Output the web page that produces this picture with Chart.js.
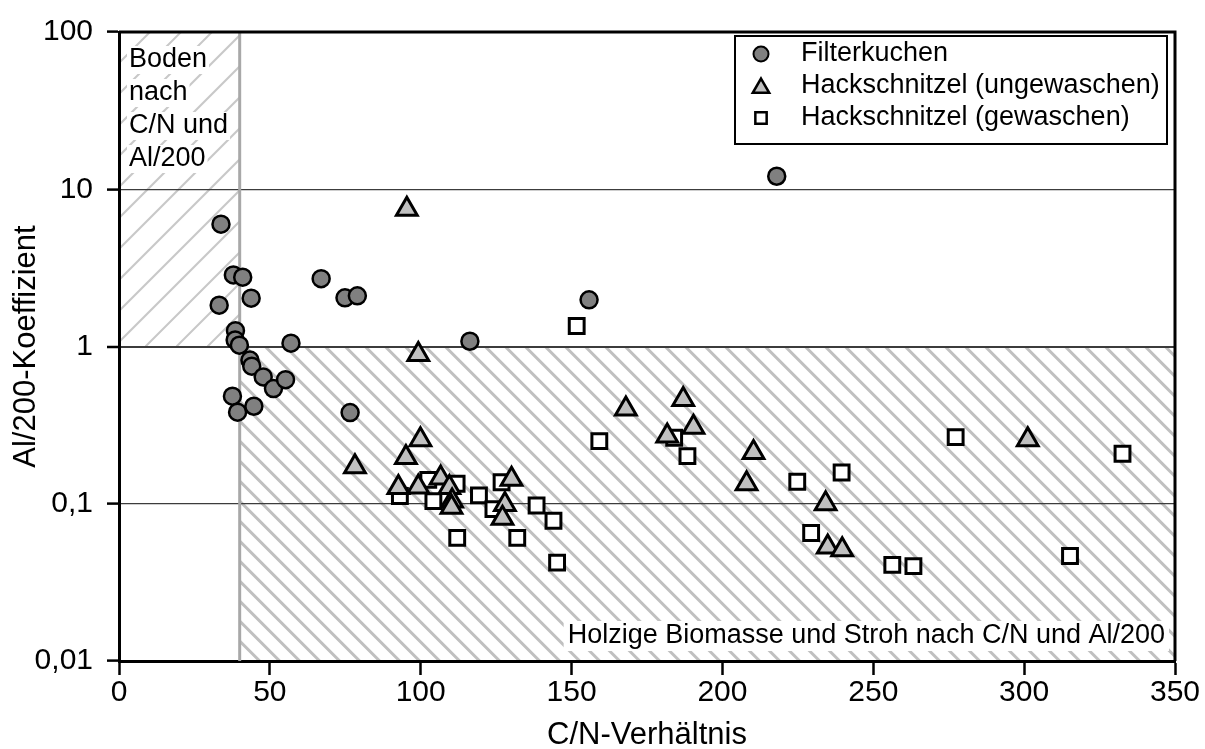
<!DOCTYPE html>
<html>
<head>
<meta charset="utf-8">
<script src="https://cdn.jsdelivr.net/npm/chart.js@4.4.0/dist/chart.umd.min.js"></script>
<style>
    body { margin: 0; background: #fff; }
</style>
</head>
<body>
<canvas id="cn_chart" width="1205" height="749"></canvas>
<script>
// values (x = C/N-Verhaeltnis, y = Al/200-Koeffizient)
var filterkuchen_x = [33.8, 33.2, 37.9, 41.0, 43.8, 38.6, 38.5, 39.9, 43.4, 44.0, 47.8, 51.2, 55.2, 37.6, 39.3, 44.7, 76.6, 57.0, 67.0, 74.9, 79.0, 116.3, 155.8, 218.0];
var filterkuchen_y = [6.0, 1.83, 2.85, 2.76, 2.03, 1.26, 1.10, 1.02, 0.82, 0.75, 0.64, 0.54, 0.615, 0.483, 0.382, 0.417, 0.38, 1.05, 2.70, 2.04, 2.10, 1.08, 1.98, 12.1];

var ungewaschen_x = [95.4, 99.2, 99.9, 95.1, 78.2, 92.6, 99.2, 106.6, 109.5, 110.4, 110.2, 130.1, 127.9, 127.1, 168.0, 187.0, 190.4, 181.7, 210.3, 208.0, 234.2, 234.9, 239.7, 301.2];
var ungewaschen_y = [7.46, 0.89, 0.255, 0.197, 0.172, 0.127, 0.128, 0.146, 0.127, 0.104, 0.095, 0.143, 0.099, 0.081, 0.40, 0.46, 0.307, 0.27, 0.212, 0.134, 0.10, 0.053, 0.051, 0.255];

var gewaschen_x = [151.7, 159.2, 93.1, 102.5, 104.2, 111.9, 119.3, 124.1, 126.8, 138.4, 144.0, 112.1, 132.0, 145.2, 184.0, 188.4, 224.8, 239.5, 229.4, 256.3, 263.3, 277.3, 332.6, 315.2];
var gewaschen_y = [1.35, 0.25, 0.112, 0.142, 0.104, 0.134, 0.113, 0.0925, 0.137, 0.0975, 0.078, 0.0607, 0.0607, 0.0422, 0.263, 0.201, 0.138, 0.158, 0.0652, 0.0409, 0.0401, 0.265, 0.208, 0.0465];

var series_names = ['Filterkuchen', 'Hackschnitzel (ungewaschen)', 'Hackschnitzel (gewaschen)'];

var x_min = 0, x_max = 350, x_step = 50;
var y_tick_values = [0.01, 0.1, 1, 10, 100];
var y_tick_labels = ['0,01', '0,1', '1', '10', '100'];
var y_grid_values = [0.1, 1, 10];

var boden_lines = ['Boden', 'nach', 'C/N und', 'Al/200'];
var holz_text = 'Holzige Biomasse und Stroh nach C/N und Al/200';

var font_family = "'Liberation Sans', Arial, sans-serif";

function to_points(xs, ys) {
    var pts = [];
    for (let i = 0; i < xs.length; i++) {
        pts.push({ x: xs[i], y: ys[i] });
    }
    return pts;
}

function hatch(ctx, x0, y0, x1, y1, gap, dir, color, width) {
    ctx.save();
    ctx.beginPath();
    ctx.rect(x0, y0, x1 - x0, y1 - y0);
    ctx.clip();
    ctx.strokeStyle = color;
    ctx.lineWidth = width;
    var h = y1 - y0;
    ctx.beginPath();
    for (let x = x0 - h; x < x1 + h; x += gap) {
        if (dir > 0) {
            ctx.moveTo(x, y1);
            ctx.lineTo(x + h, y0);
        } else {
            ctx.moveTo(x, y0);
            ctx.lineTo(x + h, y1);
        }
    }
    ctx.stroke();
    ctx.restore();
}

var regions_plugin = {
    id: 'regions',
    beforeDraw: function (chart) {
        var ctx = chart.ctx;
        var xs = chart.scales.x, ys = chart.scales.y;
        ctx.save();
        ctx.fillStyle = '#ffffff';
        ctx.fillRect(0, 0, chart.width, chart.height);
        ctx.restore();
        hatch(ctx, xs.getPixelForValue(0), ys.getPixelForValue(100), xs.getPixelForValue(40), ys.getPixelForValue(1), 31, 1, '#c8c8c8', 2);
        hatch(ctx, xs.getPixelForValue(40), ys.getPixelForValue(1), xs.getPixelForValue(350), ys.getPixelForValue(0.01), 20, -1, '#c0c0c0', 3);
    },
    beforeDatasetsDraw: function (chart) {
        var ctx = chart.ctx;
        var xs = chart.scales.x, ys = chart.scales.y;
        var x40 = xs.getPixelForValue(40);
        ctx.save();
        // region border at C/N = 40
        ctx.strokeStyle = '#a8a8a8';
        ctx.lineWidth = 3;
        ctx.beginPath();
        ctx.moveTo(x40, ys.getPixelForValue(100));
        ctx.lineTo(x40, ys.getPixelForValue(0.01));
        ctx.stroke();

        // region texts with white background
        ctx.font = '27px ' + font_family;
        ctx.textBaseline = 'middle';
        ctx.textAlign = 'left';
        var tx = xs.getPixelForValue(0) + 10;
        var ty = ys.getPixelForValue(100) + 28;
        for (let i = 0; i < boden_lines.length; i++) {
            let w = ctx.measureText(boden_lines[i]).width;
            ctx.fillStyle = '#ffffff';
            ctx.fillRect(tx - 2, ty + i * 33 - 14, w + 4, 28);
            ctx.fillStyle = '#000000';
            ctx.fillText(boden_lines[i], tx, ty + i * 33);
        }

        var hx = xs.getPixelForValue(350) - 10;
        var hy = ys.getPixelForValue(0.01) - 25;
        ctx.textAlign = 'right';
        var hw = ctx.measureText(holz_text).width;
        ctx.fillStyle = '#ffffff';
        ctx.fillRect(hx - hw - 4, hy - 15, hw + 8, 30);
        ctx.fillStyle = '#000000';
        ctx.fillText(holz_text, hx, hy);
        ctx.restore();
    },
    afterDraw: function (chart) {
        var ctx = chart.ctx;
        var a = chart.chartArea;
        ctx.save();
        // frame on top and right
        ctx.strokeStyle = '#000000';
        ctx.lineWidth = 3;
        ctx.beginPath();
        ctx.moveTo(a.left, a.top);
        ctx.lineTo(a.right, a.top);
        ctx.lineTo(a.right, a.bottom);
        ctx.stroke();

        // legend box
        var lx = 735, ly = 36, lw = 432, lh = 108;
        ctx.fillStyle = '#ffffff';
        ctx.fillRect(lx, ly, lw, lh);
        ctx.lineWidth = 2;
        ctx.strokeRect(lx, ly, lw, lh);

        var marker_opts = [
            { pointStyle: 'circle', radius: 7.5, borderWidth: 2 },
            { pointStyle: 'triangle', radius: 9.5, borderWidth: 2.5 },
            { pointStyle: 'rect', radius: 8, borderWidth: 2.5 }
        ];
        ctx.font = '27px ' + font_family;
        ctx.textBaseline = 'middle';
        ctx.textAlign = 'left';
        for (let i = 0; i < series_names.length; i++) {
            let ds = chart.data.datasets[i];
            let y = ly + 18 + i * 32;
            ctx.fillStyle = ds.backgroundColor;
            ctx.strokeStyle = ds.borderColor;
            ctx.lineWidth = marker_opts[i].borderWidth;
            Chart.helpers.drawPoint(ctx, marker_opts[i], lx + 26, y + (i == 1 ? 2 : 0));
            ctx.fillStyle = '#000000';
            ctx.fillText(series_names[i], lx + 66, y);
        }
        ctx.restore();
    }
};

var cn_chart = new Chart(document.getElementById('cn_chart').getContext('2d'), {
    type: 'scatter',
    data: {
        datasets: [{
            label: series_names[0],
            data: to_points(filterkuchen_x, filterkuchen_y),
            pointStyle: 'circle',
            pointRadius: 8.5,
            backgroundColor: '#808080',
            borderColor: '#000000',
            borderWidth: 2.5
        }, {
            label: series_names[1],
            data: to_points(ungewaschen_x, ungewaschen_y),
            pointStyle: 'triangle',
            pointRadius: 12,
            backgroundColor: '#c0c0c0',
            borderColor: '#000000',
            borderWidth: 3
        }, {
            label: series_names[2],
            data: to_points(gewaschen_x, gewaschen_y),
            pointStyle: 'rect',
            pointRadius: 10.5,
            backgroundColor: '#ffffff',
            borderColor: '#000000',
            borderWidth: 3
        }]
    },
    options: {
        responsive: false,
        animation: false,
        layout: {
            padding: { top: 29, right: 30, left: 0, bottom: 0 }
        },
        plugins: {
            legend: { display: false },
            tooltip: { enabled: false }
        },
        scales: {
            x: {
                type: 'linear',
                min: x_min,
                max: x_max,
                ticks: {
                    stepSize: x_step,
                    color: '#000000',
                    padding: 0,
                    maxRotation: 0,
                    font: { size: 30, family: font_family }
                },
                grid: {
                    drawOnChartArea: false,
                    tickLength: 14,
                    tickColor: '#000000',
                    tickWidth: 2.5
                },
                border: { display: true, color: '#000000', width: 3 },
                title: {
                    display: true,
                    text: 'C/N-Verhältnis',
                    color: '#000000',
                    font: { size: 31, family: font_family, lineHeight: 1 },
                    padding: { top: 0, bottom: -2 }
                },
                afterFit: function (scale) {
                    scale.height = 88;
                }
            },
            y: {
                type: 'logarithmic',
                min: 0.01,
                max: 100,
                afterBuildTicks: function (scale) {
                    scale.ticks = y_tick_values.map(function (v) { return { value: v }; });
                },
                ticks: {
                    color: '#000000',
                    padding: 14,
                    font: { size: 30, family: font_family },
                    callback: function (value) {
                        return y_tick_labels[y_tick_values.indexOf(value)];
                    }
                },
                grid: {
                    color: function (c) {
                        if (c.tick && y_grid_values.indexOf(c.tick.value) >= 0) {
                            return '#3c3c3c';
                        }
                        return 'rgba(0,0,0,0)';
                    },
                    lineWidth: function (c) {
                        return (c.tick && c.tick.value === 1) ? 2 : 1.2;
                    },
                    tickLength: 12,
                    tickColor: '#000000',
                    tickWidth: 2.5
                },
                border: { display: true, color: '#000000', width: 3 },
                title: {
                    display: true,
                    text: 'Al/200-Koeffizient',
                    color: '#000000',
                    font: { size: 31, family: font_family, lineHeight: 1 },
                    padding: { top: 11, bottom: 0 }
                },
                afterFit: function (scale) {
                    scale.width = 119;
                }
            }
        }
    },
    plugins: [regions_plugin]
});
</script>
</body>
</html>
